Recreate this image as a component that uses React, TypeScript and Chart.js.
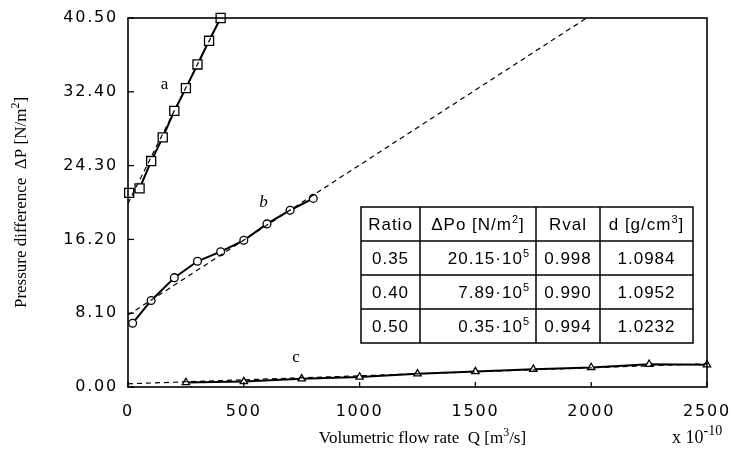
import React, { useEffect, useRef } from 'react';
import { Chart, registerables } from 'chart.js';

Chart.register(...registerables);

// ---- data ----
const aQ = [5, 50, 100, 150, 200, 250, 300, 350, 400];
const aDP = [21.3, 21.8, 24.8, 27.4, 30.3, 32.8, 35.4, 38.0, 40.5];
const bQ = [20, 100, 200, 300, 400, 500, 600, 700, 800];
const bDP = [7.0, 9.5, 12.0, 13.8, 14.85, 16.1, 17.9, 19.4, 20.7];
const cQ = [250, 500, 750, 1000, 1250, 1500, 1750, 2000, 2250, 2500];
const cDP = [0.5, 0.6, 0.9, 1.1, 1.45, 1.7, 1.95, 2.15, 2.5, 2.45];

const fitAQ = [0, 400];
const fitADP = [20.15, 40.5];
const fitBQ = [0, 1980];
const fitBDP = [7.89, 40.5];
const fitCQ = [0, 2500];
const fitCDP = [0.35, 2.55];

const yTicks = [0, 8.1, 16.2, 24.3, 32.4, 40.5];
const xTicks = [0, 500, 1000, 1500, 2000, 2500];

const curveNames = ['a', 'b', 'c'];
const curveNameQ = [158, 585, 726];
const curveNameDP = [33.2, 20.3, 3.2];

const tableRatio = ['0.35', '0.40', '0.50'];
const tableDPo = ['20.15', '7.89', '0.35'];
const tableRval = ['0.998', '0.990', '0.994'];
const tableDens = ['1.0984', '1.0952', '1.0232'];

type Seg = { t: string; sup?: boolean };

function drawRich(
  ctx: CanvasRenderingContext2D,
  segs: Seg[],
  x: number,
  y: number,
  align: 'left' | 'center' | 'right',
  size: number,
  family: string,
  style = '',
  supRatio = 0.62
) {
  const supSize = Math.round(size * supRatio);
  const fonts = segs.map((s) => `${style} ${s.sup ? supSize : size}px ${family}`);
  let total = 0;
  const widths = segs.map((s, i) => {
    ctx.font = fonts[i];
    const w = ctx.measureText(s.t).width;
    total += w;
    return w;
  });
  let cx = align === 'left' ? x : align === 'center' ? x - total / 2 : x - total;
  ctx.textAlign = 'left';
  ctx.textBaseline = 'alphabetic';
  segs.forEach((s, i) => {
    ctx.font = fonts[i];
    ctx.fillText(s.t, cx, s.sup ? y - size * 0.42 : y);
    cx += widths[i];
  });
}

const SERIF = '"Liberation Serif", "Times New Roman", serif';
const SANS = '"Liberation Sans", Arial, sans-serif';
const TICKFONT = '"DejaVu Sans", sans-serif';

const decorPlugin = {
  id: 'decor',
  beforeDraw(chart: any) {
    (chart.ctx as any).letterSpacing = '1.8px';
  },
  beforeDatasetsDraw(chart: any) {
    (chart.ctx as any).letterSpacing = '0px';
  },
  afterDraw(chart: any) {
    const ctx: CanvasRenderingContext2D = chart.ctx;
    const { left, right, top, bottom } = chart.chartArea;
    const xs = chart.scales.x;
    const ys = chart.scales.y;
    ctx.save();
    (ctx as any).letterSpacing = '0px';
    ctx.strokeStyle = '#000';
    ctx.fillStyle = '#000';
    ctx.setLineDash([]);
    // box
    ctx.lineWidth = 1.6;
    ctx.strokeRect(left, top, right - left, bottom - top);
    // inward ticks
    ctx.lineWidth = 1.3;
    xTicks.forEach((v) => {
      const px = xs.getPixelForValue(v);
      ctx.beginPath();
      ctx.moveTo(px, bottom);
      ctx.lineTo(px, bottom - 5);
      ctx.stroke();
    });
    yTicks.forEach((v) => {
      const py = ys.getPixelForValue(v);
      ctx.beginPath();
      ctx.moveTo(left, py);
      ctx.lineTo(left + 6, py);
      ctx.stroke();
    });

    // curve names
    curveNames.forEach((n, i) => {
      const px = xs.getPixelForValue(curveNameQ[i]);
      const py = ys.getPixelForValue(curveNameDP[i]);
      ctx.font = `${n === 'b' ? 'italic ' : ''}17px ${SERIF}`;
      ctx.textAlign = 'center';
      ctx.textBaseline = 'middle';
      ctx.fillText(n, px, py);
    });

    // axis titles
    const cy = (top + bottom) / 2;
    ctx.save();
    ctx.translate(20, cy);
    ctx.rotate(-Math.PI / 2);
    drawRich(ctx, [{ t: 'Pressure difference  \u0394P [N/m' }, { t: '2', sup: true }, { t: ']' }], 0, 6, 'center', 17, SERIF, '', 0.7);
    ctx.restore();
    drawRich(ctx, [{ t: 'Volumetric flow rate  Q [m' }, { t: '3', sup: true }, { t: '/s]' }], (left + right) / 2 + 5, 443, 'center', 17, SERIF, '', 0.7);
    drawRich(ctx, [{ t: 'x 10' }, { t: '-10', sup: true }], 672, 443, 'left', 18, SERIF, '', 0.75);

    // table
    const cols = [361, 420, 536, 600, 693];
    const rows = [207, 241, 275, 309, 343];
    ctx.fillStyle = '#fff';
    ctx.fillRect(cols[0], rows[0], cols[4] - cols[0], rows[4] - rows[0]);
    ctx.fillStyle = '#000';
    ctx.lineWidth = 1.5;
    ctx.strokeRect(cols[0], rows[0], cols[4] - cols[0], rows[4] - rows[0]);
    for (let i = 1; i < 4; i++) {
      ctx.beginPath();
      ctx.moveTo(cols[i], rows[0]);
      ctx.lineTo(cols[i], rows[4]);
      ctx.stroke();
      ctx.beginPath();
      ctx.moveTo(cols[0], rows[i]);
      ctx.lineTo(cols[4], rows[i]);
      ctx.stroke();
    }
    (ctx as any).letterSpacing = '1px';
    const fs = 17;
    const base = (r: number) => (rows[r] + rows[r + 1]) / 2 + 6;
    drawRich(ctx, [{ t: 'Ratio' }], (cols[0] + cols[1]) / 2, base(0), 'center', fs, SANS);
    drawRich(ctx, [{ t: '\u0394Po [N/m' }, { t: '2', sup: true }, { t: ']' }], (cols[1] + cols[2]) / 2, base(0), 'center', fs, SANS);
    drawRich(ctx, [{ t: 'Rval' }], (cols[2] + cols[3]) / 2, base(0), 'center', fs, SANS);
    drawRich(ctx, [{ t: 'd [g/cm' }, { t: '3', sup: true }, { t: ']' }], (cols[3] + cols[4]) / 2, base(0), 'center', fs, SANS);
    for (let r = 0; r < 3; r++) {
      drawRich(ctx, [{ t: tableRatio[r] }], (cols[0] + cols[1]) / 2, base(r + 1), 'center', fs, SANS);
      drawRich(ctx, [{ t: tableDPo[r] + '\u00b710' }, { t: '5', sup: true }], cols[2] - 6, base(r + 1), 'right', fs, SANS);
      drawRich(ctx, [{ t: tableRval[r] }], (cols[2] + cols[3]) / 2, base(r + 1), 'center', fs, SANS);
      drawRich(ctx, [{ t: tableDens[r] }], (cols[3] + cols[4]) / 2, base(r + 1), 'center', fs, SANS);
    }
    ctx.restore();
  },
};

const toXY = (q: number[], p: number[]) => q.map((v, i) => ({ x: v, y: p[i] }));

export default function App() {
  const ref = useRef<HTMLCanvasElement | null>(null);
  useEffect(() => {
    if (!ref.current) return;
    const fit = (q: number[], p: number[]) => ({
      data: toXY(q, p),
      borderColor: '#000',
      borderWidth: 1.2,
      borderDash: [5, 4],
      pointRadius: 0,
      fill: false,
      tension: 0,
      clip: false as any,
    });
    const series = (q: number[], p: number[], style: string, r: number) => ({
      data: toXY(q, p),
      borderColor: '#000',
      borderWidth: 2,
      pointStyle: style,
      pointRadius: r,
      pointBackgroundColor: '#fff',
      pointBorderColor: '#000',
      pointBorderWidth: 1.3,
      fill: false,
      tension: 0,
      clip: false as any,
    });
    const chart = new Chart(ref.current, {
      type: 'line',
      data: {
        datasets: [
          fit(fitAQ, fitADP),
          fit(fitBQ, fitBDP),
          fit(fitCQ, fitCDP),
          series(aQ, aDP, 'rect', 6.4),
          series(bQ, bDP, 'circle', 3.9),
          series(cQ, cDP, 'triangle', 4.2),
        ] as any,
      },
      options: {
        responsive: false,
        animation: false,
        devicePixelRatio: 1,
        layout: { padding: { left: 0, right: 28, top: 18, bottom: 0 } },
        plugins: { legend: { display: false }, tooltip: { enabled: false } },
        scales: {
          x: {
            type: 'linear',
            min: 0,
            max: 2500,
            grid: { display: false, drawTicks: false },
            border: { display: false },
            afterBuildTicks: (s: any) => {
              s.ticks = xTicks.map((v) => ({ value: v }));
            },
            afterFit: (s: any) => {
              s.height = 78;
              s.paddingLeft = 0;
              s.paddingRight = 0;
            },
            ticks: {
              color: '#000',
              padding: 15,
              maxRotation: 0,
              font: { family: TICKFONT, size: 16 },
              callback: (v: any) => String(v),
            },
          },
          y: {
            type: 'linear',
            min: 0,
            max: 40.5,
            grid: { display: false, drawTicks: false },
            border: { display: false },
            afterBuildTicks: (s: any) => {
              s.ticks = yTicks.map((v) => ({ value: v }));
            },
            afterFit: (s: any) => {
              s.width = 128;
              s.paddingTop = 0;
              s.paddingBottom = 0;
            },
            ticks: {
              color: '#000',
              padding: 10,
              font: { family: TICKFONT, size: 16 },
              callback: (v: any) => Number(v).toFixed(2),
            },
          },
        },
      } as any,
      plugins: [decorPlugin],
    });
    return () => chart.destroy();
  }, []);
  return (
    <div style={{ position: 'fixed', left: 0, top: 0, width: 735, height: 465, background: '#fff' }}>
      <canvas ref={ref} width={735} height={465} style={{ width: 735, height: 465 }} />
    </div>
  );
}
